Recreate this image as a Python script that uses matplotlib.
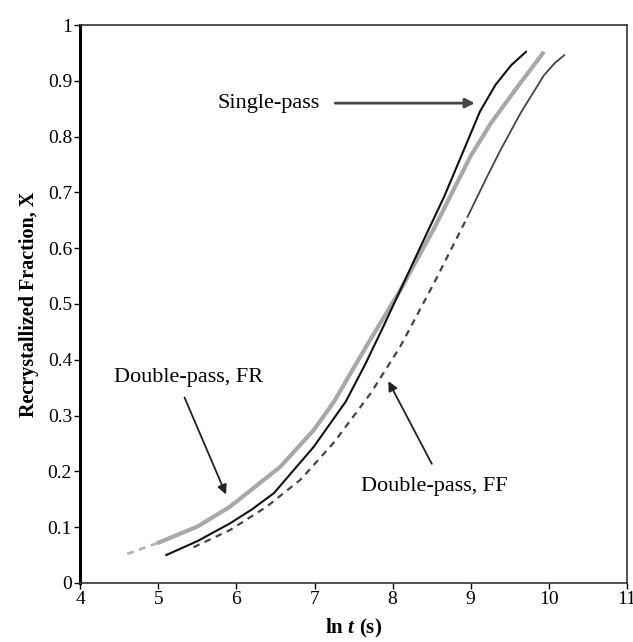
import matplotlib.pyplot as plt

plt.rcParams['font.family'] = ['Liberation Serif', 'DejaVu Serif']
plt.rcParams['mathtext.fontset'] = 'custom'
plt.rcParams['mathtext.rm'] = 'Liberation Serif:bold'
plt.rcParams['mathtext.bf'] = 'Liberation Serif:bold'
plt.rcParams['mathtext.it'] = 'Liberation Serif:italic:bold'

# データ (ln t, X)
single_x = [5.10, 5.50, 5.92, 6.20, 6.48, 6.99, 7.40, 7.65, 7.89, 8.10, 8.40, 8.66, 8.88, 9.12, 9.32, 9.52, 9.71]
single_y = [0.050, 0.075, 0.107, 0.132, 0.161, 0.244, 0.325, 0.392, 0.462, 0.525, 0.615, 0.692, 0.765, 0.845, 0.893, 0.928, 0.952]

fr_x = [4.60, 4.98, 5.50, 5.92, 6.56, 6.99, 7.25, 7.68, 8.10, 8.53, 9.00, 9.26, 9.60, 9.94]
fr_y = [0.052, 0.071, 0.101, 0.137, 0.208, 0.274, 0.325, 0.428, 0.525, 0.635, 0.765, 0.824, 0.889, 0.952]

ff_x = [5.45, 5.92, 6.39, 6.82, 7.25, 7.72, 8.10, 8.53, 8.96, 9.20, 9.38, 9.64, 9.94, 10.08, 10.20]
ff_y = [0.064, 0.095, 0.137, 0.185, 0.252, 0.340, 0.424, 0.537, 0.656, 0.725, 0.775, 0.842, 0.910, 0.932, 0.946]

fig = plt.figure(figsize=(6.33, 6.42), dpi=100)
ax = fig.add_axes([0.127, 0.092, 0.863, 0.869])

# FR: 先頭だけ点線
ax.plot(fr_x[:2], fr_y[:2], color='#b4b4b4', lw=2.0, ls=(0, (2.5, 2)))
ax.plot(fr_x[1:], fr_y[1:], color='#a8a8a8', lw=3.0, solid_capstyle='butt')
ax.plot(single_x, single_y, color='#111111', lw=1.5)
# FF: 破線 -> 細い実線
ax.plot(ff_x[:9], ff_y[:9], color='#444444', lw=1.6, ls=(0, (3, 2.5)))
ax.plot(ff_x[8:], ff_y[8:], color='#444444', lw=1.3)

arrow = dict(arrowstyle='-|>', color='#222222', lw=1.3, mutation_scale=14)
ax.annotate('', xy=(9.09, 0.86), xytext=(7.23, 0.86), arrowprops=dict(arrow, color='#444444', lw=2))
ax.text(6.41, 0.86, 'Single-pass', ha='center', va='center', fontsize=16)
ax.annotate('', xy=(5.88, 0.154), xytext=(5.32, 0.337), arrowprops=arrow)
ax.text(5.38, 0.369, 'Double-pass, FR', ha='center', va='center', fontsize=16)
ax.annotate('', xy=(7.93, 0.366), xytext=(8.52, 0.209), arrowprops=arrow)
ax.text(8.53, 0.172, 'Double-pass, FF', ha='center', va='center', fontsize=16)

ax.set_xlim(4, 11)
ax.set_ylim(0, 1)
ax.set_xticks(range(4, 12))
ax.set_yticks([i / 10 for i in range(11)])
ax.set_yticklabels(['0', '0.1', '0.2', '0.3', '0.4', '0.5', '0.6', '0.7', '0.8', '0.9', '1'])
ax.tick_params(direction='out', length=4, width=1, labelsize=14, pad=2)

for s in ['top', 'right', 'bottom']:
    ax.spines[s].set_linewidth(1.2)
    ax.spines[s].set_color('#333333')
ax.spines['left'].set_linewidth(2.2)

ax.set_xlabel(r'$\mathrm{ln}\ \mathit{t}\ \mathrm{(s)}$', fontsize=15, labelpad=6)
ax.set_ylabel('Recrystallized Fraction, X', fontsize=14.5, fontweight='bold', labelpad=6)

plt.savefig('out.png', dpi=100)
